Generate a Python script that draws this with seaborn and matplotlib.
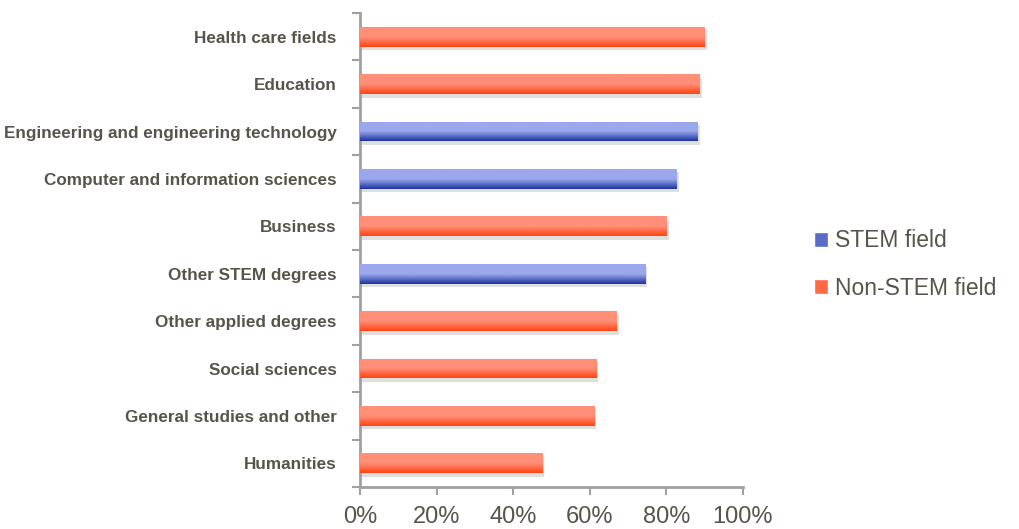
import numpy as np
import pandas as pd
import seaborn as sns
import matplotlib.pyplot as plt
import matplotlib.patheffects as pe
from matplotlib.colors import LinearSegmentedColormap
from matplotlib.patches import Patch
from matplotlib.ticker import FixedLocator, PercentFormatter

fields = ["Health care fields", "Education", "Engineering and engineering technology",
          "Computer and information sciences", "Business", "Other STEM degrees",
          "Other applied degrees", "Social sciences", "General studies and other",
          "Humanities"]
shares = [90.1, 88.8, 88.3, 82.8, 80.1, 74.5, 67.1, 61.7, 61.2, 47.6]
groups = ["Non-STEM field", "Non-STEM field", "STEM field", "STEM field", "Non-STEM field",
          "STEM field", "Non-STEM field", "Non-STEM field", "Non-STEM field", "Non-STEM field"]

# gradient colours (top -> bottom of each bar)
grad = {
    "STEM field": ("#9ca8ec", "#1b349e"),
    "Non-STEM field": ("#ff8f78", "#ff4412"),
}
text_col = "#57544b"
axis_col = "#a0a0a0"

df = pd.DataFrame({"field": fields, "share": shares, "group": groups})

sns.set_style("white")
fig = plt.figure(figsize=(10.19, 5.29), dpi=100)
ax = fig.add_axes([0.3533, 0.0794, 0.3756, 0.896])

sns.barplot(data=df, x="share", y="field", hue="group", dodge=False, orient="h",
            width=0.42, ax=ax, legend=False,
            palette={"STEM field": "#5a6cc8", "Non-STEM field": "#ff6a45"})

# replace the flat fills with vertical gradients + soft drop shadow
for patch in ax.patches:
    w = patch.get_width()
    if w <= 0:
        continue
    y0 = patch.get_y()
    h = patch.get_height()
    idx = int(round(y0 + h / 2))
    top, bottom = grad[groups[idx]]
    cmap = LinearSegmentedColormap.from_list("g", [top, top, bottom])
    patch.set_facecolor("none")
    patch.set_edgecolor("none")
    patch.set_path_effects([pe.SimplePatchShadow(offset=(1.5, -2.5), shadow_rgbFace="#808080", alpha=0.25)])
    img = ax.imshow(np.linspace(0, 1, 64).reshape(-1, 1), cmap=cmap, aspect="auto",
                    extent=[0, w, y0 + h, y0], origin="upper", zorder=3,
                    interpolation="bilinear")
    img.set_clip_path(patch)

ax.set_xlim(0, 100)
ax.set_ylim(9.5, -0.5)
ax.set_xlabel("")
ax.set_ylabel("")
ax.xaxis.set_major_locator(FixedLocator([0, 20, 40, 60, 80, 100]))
ax.xaxis.set_major_formatter(PercentFormatter(decimals=0))

# ticks between categories on the y axis
ax.yaxis.set_minor_locator(FixedLocator(np.arange(-0.5, 10, 1)))
ax.tick_params(axis="y", which="major", left=True, length=0, pad=17, labelcolor=text_col, labelsize=12.3)
ax.tick_params(axis="y", which="minor", left=True, length=6, width=1.5, color=axis_col, direction="out")
ax.tick_params(axis="x", which="major", bottom=True, length=6, width=1.5, color=axis_col, direction="out",
               labelcolor=text_col, labelsize=17, pad=8)
for lab in ax.get_yticklabels():
    lab.set_fontfamily(["Liberation Sans", "DejaVu Sans"])
    lab.set_fontweight("bold")
for lab in ax.get_xticklabels():
    lab.set_fontfamily(["Liberation Sans", "DejaVu Sans"])

for side in ["top", "right"]:
    ax.spines[side].set_visible(False)
for side in ["left", "bottom"]:
    ax.spines[side].set_color(axis_col)
    ax.spines[side].set_linewidth(2)

handles = [Patch(facecolor="#5a6cc8", label="STEM field"),
           Patch(facecolor="#ff6a45", label="Non-STEM field")]
leg = fig.legend(handles=handles, loc="center left", bbox_to_anchor=(0.783, 0.5),
                 frameon=False, handlelength=0.6, handleheight=0.6, handletextpad=0.3,
                 labelspacing=1.05, borderpad=0.2,
                 prop={"family": ["Liberation Sans", "DejaVu Sans"], "size": 16.5})
for t in leg.get_texts():
    t.set_color(text_col)

fig.savefig("out.png", dpi=100)
